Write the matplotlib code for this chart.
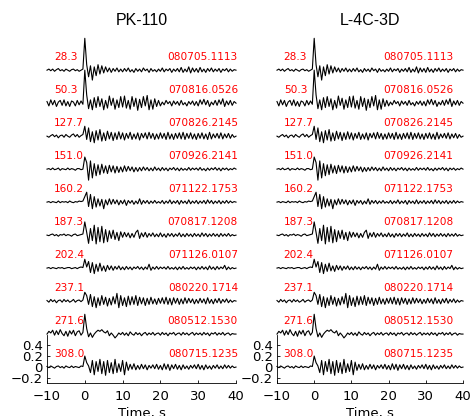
import numpy as np
import matplotlib
matplotlib.use('Agg')
import matplotlib.pyplot as plt

plt.rcParams['font.family'] = ['DejaVu Sans']

# station titles
titles = ['PK-110', 'L-4C-3D']

# epicentral distance and event id for each trace (top to bottom)
distances = ['28.3', '50.3', '127.7', '151.0', '160.2', '187.3', '202.4', '237.1', '271.6', '308.0']
events = ['080705.1113', '070816.0526', '070826.2145', '070926.2141', '071122.1753',
          '070817.1208', '071126.0107', '080220.1714', '080512.1530', '080715.1235']

tr_283 = [0.00, 0.02, -0.01, 0.02, -0.02, 0.01, 0.03, -0.01, 0.01, -0.02, 0.02, 0.00, -0.02, 0.01, 0.02, -0.01, 0.01, -0.02, 0.00, 0.02,
          0.58, 0.10, -0.12, 0.08, -0.18, 0.06, -0.10, 0.10, -0.07, 0.08, -0.05, 0.06, -0.03, 0.04, -0.04, 0.03, -0.02, 0.04, -0.03, 0.02,
          -0.03, 0.03, -0.02, 0.04, -0.03, 0.01, -0.04, 0.03, -0.02, 0.02, -0.03, 0.04, -0.01, 0.02, -0.04, 0.03, -0.02, 0.01, -0.03, 0.02,
          -0.02, 0.04, -0.03, 0.02, -0.01, 0.03, -0.04, 0.02, -0.02, 0.03, -0.03, 0.05, -0.04, 0.02, -0.03, 0.06, -0.05, 0.04, -0.03, 0.03,
          -0.04, 0.05, -0.03, 0.02, -0.04, 0.03, -0.02, 0.04, -0.03, 0.02, -0.02, 0.03, -0.04, 0.02, -0.01, 0.03, -0.03, 0.02, -0.02, 0.01, 0.00]
tr_503 = [0.03, -0.05, 0.06, -0.03, 0.05, -0.06, 0.02, 0.05, -0.04, 0.06, -0.05, 0.03, -0.06, 0.04, 0.02, -0.05, 0.05, -0.03, 0.04, -0.02,
          0.60, 0.15, -0.10, 0.06, -0.12, 0.10, -0.08, 0.12, -0.06, 0.08, -0.12, 0.05, -0.09, 0.13, -0.04, 0.09, -0.11, 0.06, -0.08, 0.12,
          -0.07, 0.13, -0.09, 0.05, -0.11, 0.12, -0.06, 0.09, -0.13, 0.07, -0.08, 0.12, -0.05, 0.14, -0.12, 0.06, -0.11, 0.08, -0.06, 0.05,
          -0.05, 0.02, -0.03, 0.05, -0.01, 0.03, -0.05, 0.04, -0.02, 0.03, -0.04, 0.05, -0.03, 0.01, -0.05, 0.03, -0.02, 0.04, -0.04, 0.03,
          -0.05, 0.06, -0.02, 0.07, -0.03, 0.05, -0.06, 0.02, -0.03, 0.05, -0.04, 0.06, -0.02, 0.08, -0.06, 0.04, -0.03, 0.05, -0.04, 0.03, 0.00]
tr_1277 = [0.00, -0.02, 0.01, 0.03, -0.01, 0.02, -0.03, 0.01, 0.02, -0.02, 0.03, 0.00, -0.02, 0.02, 0.04, -0.01, 0.03, -0.02, 0.01, 0.03,
           0.18, -0.06, 0.15, -0.10, 0.08, -0.12, 0.10, -0.07, 0.12, -0.09, 0.06, -0.08, 0.09, -0.05, 0.07, -0.08, 0.06, -0.06, 0.08, -0.05,
           0.06, -0.07, 0.05, -0.04, 0.07, -0.06, 0.04, -0.05, 0.06, -0.07, 0.05, -0.03, 0.06, -0.05, 0.07, -0.04, 0.05, -0.06, 0.04, -0.05,
           0.06, -0.04, 0.05, -0.06, 0.07, -0.05, 0.04, -0.06, 0.05, -0.04, 0.06, -0.05, 0.07, -0.06, 0.05, -0.04, 0.06, -0.05, 0.04, -0.06,
           0.05, -0.04, 0.06, -0.05, 0.04, -0.06, 0.07, -0.05, 0.04, -0.03, 0.05, -0.04, 0.06, -0.05, 0.04, -0.03, 0.05, -0.04, 0.03, -0.02, 0.00]
tr_1510 = [0.00, 0.01, -0.01, 0.02, -0.01, 0.00, 0.02, -0.02, 0.01, 0.00, -0.01, 0.02, -0.01, 0.01, 0.00, -0.02, 0.01, 0.01, -0.01, 0.00,
           0.22, 0.12, -0.20, 0.15, -0.16, 0.10, -0.12, 0.08, -0.10, 0.09, -0.07, 0.06, -0.08, 0.07, -0.05, 0.06, -0.07, 0.05, -0.06, 0.04,
           -0.05, 0.06, -0.04, 0.05, -0.03, 0.04, -0.05, 0.03, -0.04, 0.03, -0.03, 0.04, -0.02, 0.03, -0.03, 0.02, -0.03, 0.04, -0.02, 0.02,
           -0.03, 0.03, -0.02, 0.02, -0.03, 0.02, -0.01, 0.03, -0.02, 0.02, -0.03, 0.02, -0.02, 0.01, -0.02, 0.03, -0.02, 0.02, -0.01, 0.02,
           -0.02, 0.03, -0.02, 0.01, -0.03, 0.02, -0.02, 0.02, -0.01, 0.03, -0.02, 0.02, -0.03, 0.02, -0.01, 0.02, -0.02, 0.01, -0.01, 0.02, 0.00]
tr_1602 = [0.00, 0.01, -0.01, 0.01, 0.00, -0.01, 0.02, -0.01, 0.01, 0.00, 0.01, -0.01, 0.02, 0.00, -0.01, 0.01, 0.00, 0.02, 0.01, 0.02,
           0.10, 0.18, -0.08, 0.14, -0.12, 0.10, -0.09, 0.06, -0.07, 0.05, -0.12, 0.04, -0.05, 0.06, -0.04, 0.05, -0.03, 0.04, -0.05, 0.03,
           -0.03, 0.04, -0.06, 0.03, -0.02, 0.03, -0.04, 0.02, -0.03, 0.06, -0.04, 0.03, -0.02, 0.03, -0.03, 0.02, -0.02, 0.03, -0.02, 0.01,
           -0.02, 0.03, -0.03, 0.02, -0.02, 0.04, -0.03, 0.02, -0.02, 0.03, -0.04, 0.03, -0.02, 0.02, -0.03, 0.04, -0.03, 0.02, -0.02, 0.03,
           -0.03, 0.02, -0.02, 0.03, -0.03, 0.04, -0.02, 0.03, -0.03, 0.02, -0.02, 0.03, -0.03, 0.02, -0.02, 0.03, -0.02, 0.02, -0.01, 0.01, 0.00]
tr_1873 = [0.00, -0.01, 0.01, 0.02, -0.01, 0.01, -0.02, 0.01, 0.00, 0.02, -0.01, 0.01, 0.00, -0.02, 0.01, 0.02, -0.01, 0.00, 0.01, 0.02,
           0.24, 0.05, -0.15, 0.12, -0.10, 0.18, -0.16, 0.14, -0.12, 0.16, -0.14, 0.10, -0.12, 0.08, -0.06, 0.09, -0.08, 0.05, -0.10, 0.06,
           -0.04, 0.05, -0.03, 0.04, -0.05, 0.03, -0.04, 0.05, 0.09, -0.06, 0.04, -0.03, 0.05, -0.04, 0.03, -0.02, 0.04, -0.03, 0.02, -0.03,
           0.04, -0.03, 0.02, -0.04, 0.03, -0.02, 0.03, -0.03, 0.02, -0.02, 0.04, -0.03, 0.02, -0.03, 0.03, -0.02, 0.02, -0.03, 0.03, -0.02,
           0.02, -0.03, 0.04, -0.02, 0.03, -0.03, 0.02, -0.02, 0.03, -0.02, 0.02, -0.03, 0.03, -0.02, 0.02, -0.02, 0.03, -0.02, 0.01, -0.01, 0.00]
tr_2024 = [0.00, 0.01, -0.01, 0.01, 0.00, -0.01, 0.01, 0.00, 0.01, -0.01, 0.00, 0.01, 0.01, -0.01, 0.00, 0.01, -0.01, 0.01, 0.02, 0.01,
           0.16, 0.02, 0.12, -0.08, 0.10, -0.10, 0.07, -0.06, 0.09, -0.05, 0.04, -0.06, 0.05, -0.03, 0.04, -0.04, 0.03, -0.02, 0.04, -0.03,
           0.02, -0.03, 0.03, -0.02, 0.02, -0.03, 0.02, -0.01, 0.03, -0.02, 0.02, -0.03, 0.02, -0.02, 0.07, -0.04, 0.02, -0.02, 0.03, -0.02,
           0.02, -0.01, 0.02, -0.02, 0.03, -0.02, 0.01, -0.02, 0.02, -0.03, 0.02, -0.02, 0.03, -0.02, 0.01, -0.02, 0.02, -0.01, 0.02, -0.03,
           0.02, -0.02, 0.03, -0.02, 0.02, -0.03, 0.04, -0.02, 0.02, -0.03, 0.03, -0.02, 0.02, -0.01, 0.05, -0.03, 0.02, -0.02, 0.01, -0.01, 0.00]
tr_2371 = [0.01, -0.02, 0.03, -0.01, 0.02, -0.03, 0.01, 0.02, -0.02, 0.03, -0.01, 0.02, -0.02, 0.00, 0.03, -0.02, 0.01, 0.02, -0.01, 0.02,
           0.16, 0.10, -0.06, 0.12, -0.10, 0.08, -0.12, 0.06, -0.08, 0.10, -0.06, 0.07, -0.09, 0.05, -0.07, 0.08, -0.05, 0.14, -0.12, 0.10,
           -0.08, 0.06, -0.10, 0.09, -0.07, 0.08, -0.06, 0.10, -0.08, 0.07, -0.05, 0.06, -0.08, 0.05, -0.06, 0.07, -0.05, 0.04, -0.06, 0.05,
           -0.04, 0.06, -0.05, 0.07, -0.06, 0.05, -0.07, 0.06, -0.04, 0.05, -0.06, 0.04, -0.05, 0.06, -0.04, 0.05, -0.03, 0.04, -0.05, 0.03,
           -0.04, 0.05, -0.03, 0.04, -0.05, 0.06, -0.04, 0.03, -0.05, 0.04, -0.03, 0.05, -0.04, 0.03, -0.02, 0.04, -0.03, 0.02, -0.02, 0.01, 0.00]
tr_2716 = [0.00, 0.05, 0.02, 0.07, -0.02, 0.06, -0.01, 0.08, 0.01, -0.03, 0.05, -0.04, 0.06, 0.00, 0.07, -0.03, 0.04, 0.06, -0.02, 0.03,
           0.36, 0.10, -0.05, 0.02, -0.06, 0.00, 0.04, 0.07, 0.05, 0.08, 0.04, 0.02, 0.06, -0.03, 0.02, -0.02, -0.07, -0.03, 0.02, -0.01,
           0.03, -0.02, 0.02, -0.03, 0.04, 0.00, -0.02, 0.03, -0.01, 0.02, -0.03, 0.01, 0.03, -0.02, 0.02, -0.01, 0.03, -0.02, 0.01, 0.02,
           -0.02, 0.03, -0.01, 0.02, -0.03, 0.02, 0.00, 0.03, -0.02, 0.01, 0.02, -0.02, 0.03, -0.01, 0.02, -0.02, 0.01, 0.03, -0.02, 0.02,
           -0.01, 0.02, -0.02, 0.03, -0.01, 0.02, -0.03, 0.02, 0.00, 0.03, -0.02, 0.02, -0.01, 0.03, -0.02, 0.01, 0.02, -0.02, 0.01, 0.00, 0.00]
tr_3080 = [0.01, -0.01, 0.02, 0.00, -0.02, 0.01, 0.02, -0.01, 0.01, -0.02, 0.02, 0.00, -0.01, 0.02, -0.01, 0.01, 0.00, -0.01, 0.02, 0.01,
           0.20, 0.08, 0.02, -0.10, 0.12, -0.14, 0.10, -0.08, 0.14, -0.12, 0.10, -0.15, 0.12, -0.10, 0.08, -0.12, 0.14, -0.10, 0.06, -0.08,
           0.12, -0.14, 0.09, -0.06, 0.05, -0.04, 0.06, -0.05, 0.03, -0.04, 0.05, -0.03, 0.04, -0.05, 0.03, -0.02, 0.04, -0.03, 0.05, -0.04,
           0.03, -0.05, 0.06, -0.04, 0.05, -0.06, 0.04, -0.03, 0.05, -0.04, 0.03, -0.05, 0.04, -0.03, 0.02, -0.04, 0.03, -0.02, 0.04, -0.03,
           0.05, -0.04, 0.03, -0.05, 0.04, -0.03, 0.02, -0.04, 0.03, -0.02, 0.04, -0.03, 0.02, -0.03, 0.04, -0.02, 0.03, -0.02, 0.02, -0.01, 0.00]

traces = [tr_283, tr_503, tr_1277, tr_1510, tr_1602, tr_1873, tr_2024, tr_2371, tr_2716, tr_3080]
spacing = 0.6

fig = plt.figure(figsize=(4.77, 4.16), dpi=100)
panels = [(47 / 477, 189 / 477, 40.5), (277 / 477, 186 / 477, 37.4)]

for (left, width, date_x), title in zip(panels, titles):
    ax = fig.add_axes([left, 33 / 416, width, 348 / 416])
    n = len(traces)
    for k, tr in enumerate(traces):
        off = (n - 1 - k) * spacing
        t = np.linspace(-10, 40, len(tr))
        ax.plot(t, np.array(tr) + off, color='black', lw=0.8, clip_on=False)
        ax.text(-8.2, off + 0.24, distances[k], color='red', fontsize=7.6,
                ha='left', va='center')
        ax.text(date_x, off + 0.24, events[k], color='red', fontsize=7.6,
                ha='right', va='center')
    ax.set_xlim(-10, 40)
    ax.set_ylim(-0.29, 6.04)
    ax.set_xticks([-10, 0, 10, 20, 30, 40])
    ax.set_yticks([-0.2, 0, 0.2, 0.4])
    ax.set_yticklabels(['\u22120.2', '0', '0.2', '0.4'])
    ax.tick_params(direction='in', length=2, width=0.6, labelsize=9.5, pad=3)
    ax.tick_params(axis='x', pad=5)
    ax.spines['top'].set_visible(False)
    ax.spines['right'].set_visible(False)
    ax.spines['left'].set_bounds(-0.29, 0.58)
    for s in ['left', 'bottom']:
        ax.spines[s].set_linewidth(0.6)
    ax.set_xlabel('Time, s', fontsize=9.5, labelpad=3)
    ax.set_title(title, fontsize=11.5, pad=7, fontname='Liberation Sans')

fig.savefig('out.png', dpi=100)
